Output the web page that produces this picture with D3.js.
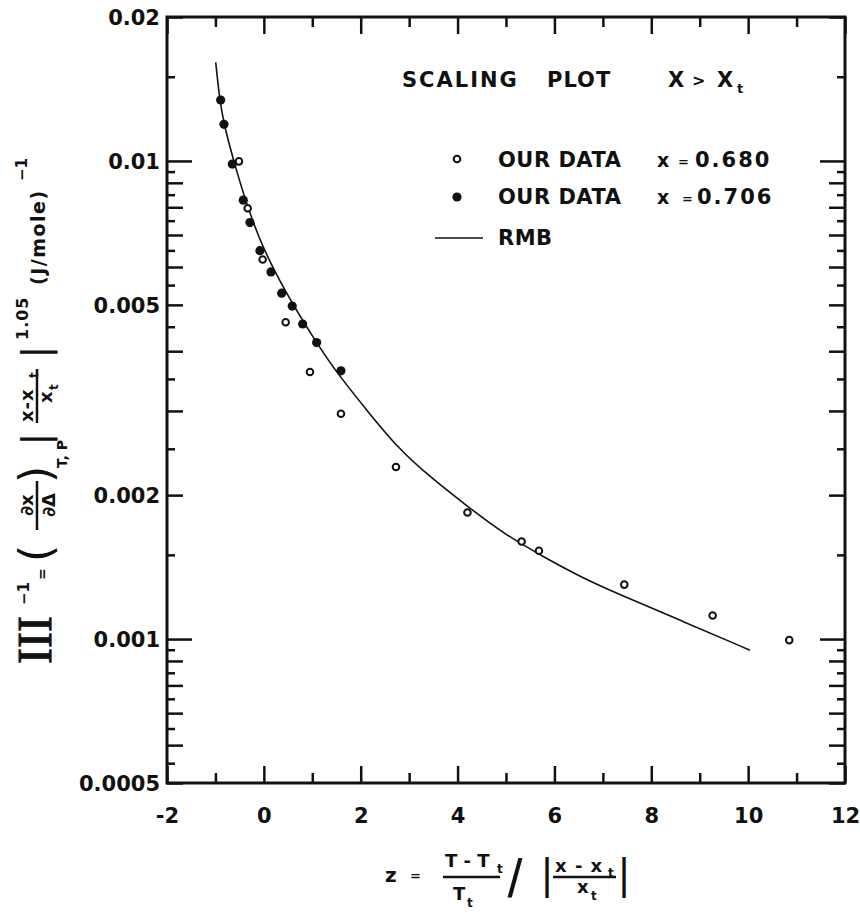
<!DOCTYPE html>
<html>
<head>
<meta charset="utf-8">
<script src="https://cdn.jsdelivr.net/npm/d3@7"></script>
<style>
  body { margin: 0; background: #fff; }
  svg text { font-family: "DejaVu Sans", sans-serif; font-weight: bold; fill: #111; }
</style>
</head>
<body>
<svg id="chart" width="860" height="913"></svg>
<script>
// Measurements at x = 0.706 (filled symbols)
const zFilled = [-0.892, -0.824, -0.652, -0.425, -0.287, -0.081, 0.147, 0.368, 0.586, 0.801, 1.090, 1.592];
const vFilled = [0.01341, 0.01193, 0.00985, 0.00828, 0.00743, 0.00649, 0.00586, 0.00529, 0.00497, 0.00456, 0.00417, 0.00364];

// Measurements at x = 0.680 (open symbols)
const zOpen = [-0.514, -0.334, -0.025, 0.450, 0.952, 1.592, 2.728, 4.204, 5.323, 5.680, 7.442, 9.267, 10.849];
const vOpen = [0.00998, 0.00796, 0.00622, 0.00460, 0.00362, 0.00296, 0.00229, 0.00184, 0.00160, 0.00153, 0.00130, 0.00112, 0.000995];

// RMB scaling function
const zRMB = [-0.994, -0.912, -0.823, -0.631, -0.080, 1.091, 1.572, 2.124, 2.743, 3.431, 4.257, 4.944, 5.770, 6.596, 7.285, 8.661, 10.037];
const vRMB = [0.01608, 0.01341, 0.01193, 0.01004, 0.00651, 0.00414, 0.003536, 0.003013, 0.002524, 0.002182, 0.001877, 0.001664, 0.001486, 0.001340, 0.001247, 0.001088, 0.000948];

// Axis ticks
const yTicks = [0.0005, 0.00055, 0.0006, 0.00065, 0.0007, 0.00075, 0.0008, 0.00085, 0.0009, 0.00095,
                0.001, 0.0015, 0.002, 0.0025, 0.003, 0.0035, 0.004, 0.0045, 0.005, 0.0055, 0.006,
                0.0065, 0.007, 0.0075, 0.008, 0.0085, 0.009, 0.0095, 0.01, 0.015, 0.02];
const yTickLabels = [0.02, 0.01, 0.005, 0.002, 0.001, 0.0005];
const xTicks = [-2, -1, 0, 1, 2, 3, 4, 5, 6, 7, 8, 9, 10, 11, 12];
const xTickLabels = [-2, 0, 2, 4, 6, 8, 10, 12];

const svg = d3.select("#chart");
const x = d3.scaleLinear().domain([-2, 12]).range([167, 845]);
const y = d3.scaleLog().domain([0.0005, 0.02]).range([783, 17]);

function yTickLen(v) {
  const e = Math.floor(Math.log10(v) + 1e-9);
  const k = Math.round(v / Math.pow(10, e) * 100) / 100;
  if (k === 1) return 25;
  return Number.isInteger(k) ? 16 : 8;
}
const xTickLen = d => (d % 2 === 0 ? 17 : 10);

// Left axis with labels
const gL = svg.append("g").attr("transform", "translate(167,0)")
  .call(d3.axisLeft(y).tickValues(yTicks)
    .tickFormat(d => yTickLabels.includes(d) ? String(d) : "")
    .tickSize(0).tickPadding(7));
gL.select(".domain").remove();
gL.selectAll(".tick line").attr("x2", d => yTickLen(d)).attr("stroke", "#111").attr("stroke-width", 2.5);
gL.selectAll(".tick text").attr("font-size", 21).attr("dy", "0.36em")
  .style("font-family", "'DejaVu Sans', sans-serif").style("font-weight", "bold");

// Right axis (ticks only)
const gR = svg.append("g").attr("transform", "translate(845,0)")
  .call(d3.axisRight(y).tickValues(yTicks).tickFormat("").tickSize(0));
gR.select(".domain").remove();
gR.selectAll(".tick line").attr("x2", d => -yTickLen(d)).attr("stroke", "#111").attr("stroke-width", 2.5);

// Bottom axis with labels
const gB = svg.append("g").attr("transform", "translate(0,783)")
  .call(d3.axisBottom(x).tickValues(xTicks)
    .tickFormat(d => xTickLabels.includes(d) ? String(d) : "")
    .tickSize(0));
gB.select(".domain").remove();
gB.selectAll(".tick line").attr("y2", d => -xTickLen(d)).attr("stroke", "#111").attr("stroke-width", 2.5);
gB.selectAll(".tick text").attr("font-size", 21).attr("y", 40).attr("dy", 0)
  .style("font-family", "'DejaVu Sans', sans-serif").style("font-weight", "bold");

// Top axis (ticks only)
const gT = svg.append("g").attr("transform", "translate(0,17)")
  .call(d3.axisTop(x).tickValues(xTicks).tickFormat("").tickSize(0));
gT.select(".domain").remove();
gT.selectAll(".tick line").attr("y2", d => xTickLen(d)).attr("stroke", "#111").attr("stroke-width", 2.5);

// Frame
svg.append("rect").attr("x", 167).attr("y", 17).attr("width", 678).attr("height", 766)
  .attr("fill", "none").attr("stroke", "#111").attr("stroke-width", 3);

// RMB curve
const line = d3.line().x(d => x(d[0])).y(d => y(d[1])).curve(d3.curveBasis);
svg.append("path").datum(zRMB.map((z, i) => [z, vRMB[i]]))
  .attr("d", line).attr("fill", "none").attr("stroke", "#111").attr("stroke-width", 1.6);

// Data symbols
svg.append("g").selectAll("circle").data(zOpen.map((z, i) => [z, vOpen[i]])).join("circle")
  .attr("cx", d => x(d[0])).attr("cy", d => y(d[1])).attr("r", 3.3)
  .attr("fill", "#fff").attr("stroke", "#111").attr("stroke-width", 2);
svg.append("g").selectAll("circle").data(zFilled.map((z, i) => [z, vFilled[i]])).join("circle")
  .attr("cx", d => x(d[0])).attr("cy", d => y(d[1])).attr("r", 4.6).attr("fill", "#111");

// Text helper
function txt(parent, s, xx, yy, size, opts = {}) {
  const t = parent.append("text").attr("x", xx).attr("y", yy).attr("font-size", size).text(s);
  if (opts.anchor) t.attr("text-anchor", opts.anchor);
  if (opts.ls) t.attr("letter-spacing", opts.ls);
  if (opts.weight) t.style("font-weight", opts.weight);
  if (opts.family) t.style("font-family", opts.family);
  if (opts.stroke) t.attr("stroke", "#111").attr("stroke-width", opts.stroke);
  return t;
}

// Legend
const lg = svg.append("g");
txt(lg, "SCALING", 402, 87, 21, { ls: 2 });
txt(lg, "PLOT", 547, 87, 21, { ls: 1 });
txt(lg, "X", 668, 87, 21);
txt(lg, ">", 692, 86, 16);
txt(lg, "X", 717, 87, 21);
txt(lg, "t", 737, 93, 13);

lg.append("circle").attr("cx", 457).attr("cy", 159).attr("r", 3.3)
  .attr("fill", "#fff").attr("stroke", "#111").attr("stroke-width", 2);
txt(lg, "OUR DATA", 498, 167, 21, { ls: 0.5 });
txt(lg, "x", 657, 167, 19);
txt(lg, "=", 678, 166, 13);
txt(lg, "0.680", 695, 167, 21, { ls: 2 });

lg.append("circle").attr("cx", 457).attr("cy", 197).attr("r", 4.6).attr("fill", "#111");
txt(lg, "OUR DATA", 498, 204, 21, { ls: 0.5 });
txt(lg, "x", 657, 204, 19);
txt(lg, "=", 682, 203, 13);
txt(lg, "0.706", 697, 204, 21, { ls: 2 });

lg.append("line").attr("x1", 435).attr("x2", 483).attr("y1", 238).attr("y2", 238)
  .attr("stroke", "#111").attr("stroke-width", 1.6);
txt(lg, "RMB", 498, 245, 21, { ls: 0.5 });

// X-axis title: z = (T - Tt)/Tt / |(x - xt)/xt|
const xl = svg.append("g");
txt(xl, "z", 385, 882, 20);
txt(xl, "=", 410, 880, 13);
txt(xl, "T - T", 445, 867, 18);
txt(xl, "t", 497, 873, 12);
xl.append("line").attr("x1", 443).attr("x2", 500).attr("y1", 877).attr("y2", 877).attr("stroke", "#111").attr("stroke-width", 2.5);
txt(xl, "T", 453, 900, 18);
txt(xl, "t", 467, 907, 12);
txt(xl, "/", 515, 897, 54, { anchor: "middle", weight: "normal", family: "'Liberation Sans', sans-serif" });
txt(xl, "|", 547, 888, 40, { anchor: "middle", weight: "normal" });
txt(xl, "x - x", 555, 872, 18, { ls: 1 });
txt(xl, "t", 608, 877, 12);
xl.append("line").attr("x1", 553).attr("x2", 616).attr("y1", 877).attr("y2", 877).attr("stroke", "#111").attr("stroke-width", 2.5);
txt(xl, "x", 577, 893, 18);
txt(xl, "t", 591, 900, 12);
txt(xl, "|", 624, 888, 40, { anchor: "middle", weight: "normal" });

// Y-axis title, set upright along the left edge
const yl = svg.append("g").attr("transform", "rotate(-90)");
txt(yl, "III", -664, 51, 48, { family: "'Liberation Serif', serif", weight: "normal", stroke: 1 });
txt(yl, "−1", -605, 29, 15);
txt(yl, "=", -580, 47, 14);
txt(yl, "(", -562, 51, 44, { weight: "normal" });
txt(yl, "∂x", -505, 33, 18, { anchor: "middle" });
yl.append("line").attr("x1", -530).attr("x2", -481).attr("y1", 37).attr("y2", 37).attr("stroke", "#111").attr("stroke-width", 2.5);
txt(yl, "∂Δ", -505, 55, 18, { anchor: "middle" });
txt(yl, ")", -483, 51, 44, { weight: "normal" });
txt(yl, "T, P", -468, 67, 14);
txt(yl, "|", -439, 48, 38, { anchor: "middle", weight: "normal" });
txt(yl, "x-x", -422, 33, 18, { ls: 1 });
txt(yl, "t", -378, 38, 12);
yl.append("line").attr("x1", -423).attr("x2", -369).attr("y1", 37).attr("y2", 37).attr("stroke", "#111").attr("stroke-width", 2.5);
txt(yl, "x", -403, 52, 18);
txt(yl, "t", -390, 58, 12);
txt(yl, "|", -352, 48, 38, { anchor: "middle", weight: "normal" });
txt(yl, "1.05", -340, 28, 16, { ls: 1 });
txt(yl, "(J/mole)", -285, 45, 19, { ls: 1.5 });
txt(yl, "−1", -181, 27, 15);
</script>
</body>
</html>
